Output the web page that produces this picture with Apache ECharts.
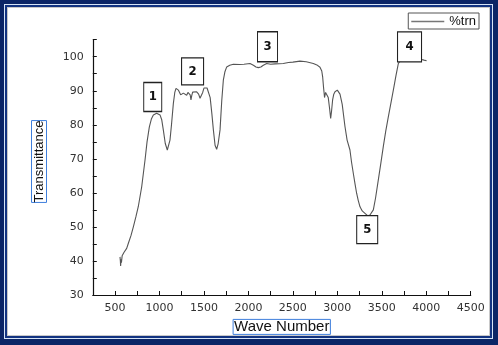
<!DOCTYPE html>
<html>
<head>
<meta charset="utf-8">
<script src="https://cdn.jsdelivr.net/npm/echarts@6/dist/echarts.min.js"></script>
<style>
  html, body { margin: 0; padding: 0; background: #fff; }
  #frame { position: absolute; left: 0; top: 0; width: 498px; height: 345px; box-sizing: border-box;
    background: #0b2566; padding: 4px 5px 6px 4px; }
  #frame .b { width: 100%; height: 100%; box-sizing: border-box; background: #d6e4f6; padding: 1px; }
  #frame .c { width: 100%; height: 100%; box-sizing: border-box; background: #123381; padding: 2px; }
  #frame .d { width: 100%; height: 100%; box-sizing: border-box; background: #fff; border: 1px solid #c9c9c9; }
  #ftir { position: absolute; left: 0; top: 0; width: 498px; height: 345px; }
</style>
</head>
<body>
<div id="frame"><div class="b"><div class="c"><div class="d"></div></div></div></div>
<div id="ftir"></div>
<script>
// FTIR spectrum
let wavenumbers = [556, 560, 563, 567, 572, 580, 593, 600, 612, 620, 631, 650, 680, 706, 735, 762, 800, 837, 860, 886,
  910, 931, 968, 1006, 1025, 1043, 1065, 1088, 1100, 1118, 1135, 1156, 1172, 1186, 1200, 1212, 1238, 1250, 1268, 1285,
  1306, 1320, 1336, 1345, 1354, 1362, 1373, 1395, 1418, 1440, 1456, 1470, 1486, 1500, 1520, 1535, 1550, 1570, 1590, 1606,
  1625, 1643, 1660, 1681, 1700, 1718, 1735, 1756, 1790, 1831, 1900, 1950, 2018, 2056, 2085, 2112, 2140, 2168, 2206, 2250,
  2300, 2393, 2450, 2500, 2580, 2650, 2730, 2770, 2805, 2825, 2835, 2845, 2850, 2856, 2861, 2868, 2880, 2898, 2912, 2925,
  2935, 2947, 2960, 2974, 3000, 3015, 3030, 3055, 3086, 3110, 3142, 3160, 3180, 3200, 3217, 3235, 3255, 3280, 3311, 3340,
  3367, 3385, 3405, 3430, 3461, 3490, 3517, 3545, 3574, 3600, 3630, 3660, 3686, 3705, 3750, 3800, 3850, 3900, 3948, 3975, 4004]
let transmittance = [41.2, 40, 38.5, 40.5, 39.5, 41.5, 41.2, 42.5, 42.7, 42.3, 43.7, 45.2, 47.5, 50, 53, 56, 61.8, 69.6, 75, 79.4,
  81.8, 82.9, 83.4, 82.9, 81.5, 78.5, 74.5, 72.6, 72.8, 75.5, 80, 86.3, 89.5, 90.7, 90.8, 90.2, 88.8, 88.5, 89.3, 89,
  88.7, 89.5, 89.8, 88.8, 87.3, 88.5, 89.6, 90, 89.7, 89, 87.8, 88, 89.5, 90.8, 91, 90.8, 90.5, 88, 83, 78.5,
  74, 72.8, 74.5, 78.5, 87, 93.1, 95.5, 97, 97.5, 97.8, 97.7, 97.8, 98, 97.5, 97, 96.8, 97, 97.5, 98, 97.8,
  97.9, 98, 98.3, 98.4, 98.7, 98.5, 98, 97.6, 96.9, 95.8, 94.1, 91, 89.7, 88, 87.8, 89.5, 89.3, 88, 85, 81.9,
  84, 87.3, 89, 89.7, 90.2, 89.8, 89, 86, 79.5, 75.5, 72.6, 69, 65.7, 62.5, 59.9, 57.8, 55.9, 54.7, 54, 53.3,
  53.5, 54, 55, 58.5, 63.8, 68.8, 73.6, 78.2, 82.4, 86, 90.2, 94.5, 98, 98.7, 99, 99.1, 99.1, 99.1, 99.2, 99, 98.8]

// numbered peak boxes
let peakNames = ['1', '2', '3', '4', '5']
let peakX = [924, 1372, 2215, 3812, 3336]
let peakY = [88.2, 95.7, 102.9, 102.9, 49.2]
let peakBoxes = [[18, 29], [22, 27], [20, 30], [24, 30], [21, 28]]

let xTicks = [500, 1000, 1500, 2000, 2500, 3000, 3500, 4000, 4500]
let yTicks = [30, 40, 50, 60, 70, 80, 90, 100]

let chart = echarts.init(document.getElementById('ftir'), null, {width: 498, height: 345})

let points = wavenumbers.map((w, i) => [w, transmittance[i]])
let marks = peakNames.map((n, i) => ({
  name: n,
  coord: [peakX[i], peakY[i]],
  symbolSize: peakBoxes[i],
}))

let axisText = {color: '#333', fontSize: 11, fontFamily: 'DejaVu Sans'}

let option = {
  animation: false,
  backgroundColor: 'transparent',
  grid: {left: 92.8, right: 27.3, top: 39.7, bottom: 50},
  legend: {
    data: [{name: '%trn', icon: 'rect'}],
    right: 19,
    top: 13,
    padding: [2, 3, 1, 3],
    borderColor: '#555',
    borderWidth: 1,
    itemWidth: 33,
    itemHeight: 1.5,
    itemGap: 4,
    itemStyle: {color: '#777'},
    textStyle: {color: '#111', fontSize: 13, fontFamily: 'Liberation Sans'},
  },
  // y title sits a little above the axis middle, so it is placed by hand
  graphic: [{
    type: 'text',
    x: 39,
    y: 161.5,
    rotation: Math.PI / 2,
    style: {
      text: 'Transmittance',
      fill: '#111',
      font: '13px "Liberation Sans"',
      align: 'center',
      verticalAlign: 'middle',
      borderColor: '#3f7fdc',
      borderWidth: 1,
      padding: [1, 0, 1, 0],
    },
  }],
  xAxis: {
    type: 'value',
    min: 250,
    max: 4500,
    interval: 250,
    name: 'Wave Number',
    nameLocation: 'middle',
    nameGap: 24,
    nameTextStyle: {
      color: '#111', fontSize: 15, fontFamily: 'Liberation Sans',
      borderColor: '#3f7fdc', borderWidth: 1, padding: [0, 1, 0, 1],
    },
    splitLine: {show: false},
    axisLine: {lineStyle: {color: '#111', width: 1.2}},
    axisTick: {inside: true, length: 4, lineStyle: {color: '#111'}},
    axisLabel: Object.assign({
      margin: 8,
      formatter: v => xTicks.indexOf(v) >= 0 ? String(v) : '',
    }, axisText),
  },
  yAxis: {
    type: 'value',
    min: 30,
    max: 105,
    interval: 5,
    splitLine: {show: false},
    axisLine: {lineStyle: {color: '#111', width: 1.2}},
    axisTick: {inside: true, length: 4, lineStyle: {color: '#111'}},
    axisLabel: Object.assign({
      margin: 9,
      formatter: v => yTicks.indexOf(v) >= 0 ? String(v) : '',
    }, axisText),
  },
  series: [
    {
      name: '%trn',
      type: 'line',
      data: points,
      symbol: 'none',
      lineStyle: {color: '#555', width: 1.1},
      itemStyle: {color: '#777'},
      markPoint: {
        symbol: 'rect',
        itemStyle: {color: '#fff', borderColor: '#222', borderWidth: 1.2},
        label: {
          show: true,
          formatter: '{b}',
          color: '#111',
          fontSize: 13,
          fontWeight: 'bold',
          fontFamily: 'DejaVu Sans Condensed',
        },
        data: marks,
      },
    },
  ],
}

chart.setOption(option)
</script>
</body>
</html>
